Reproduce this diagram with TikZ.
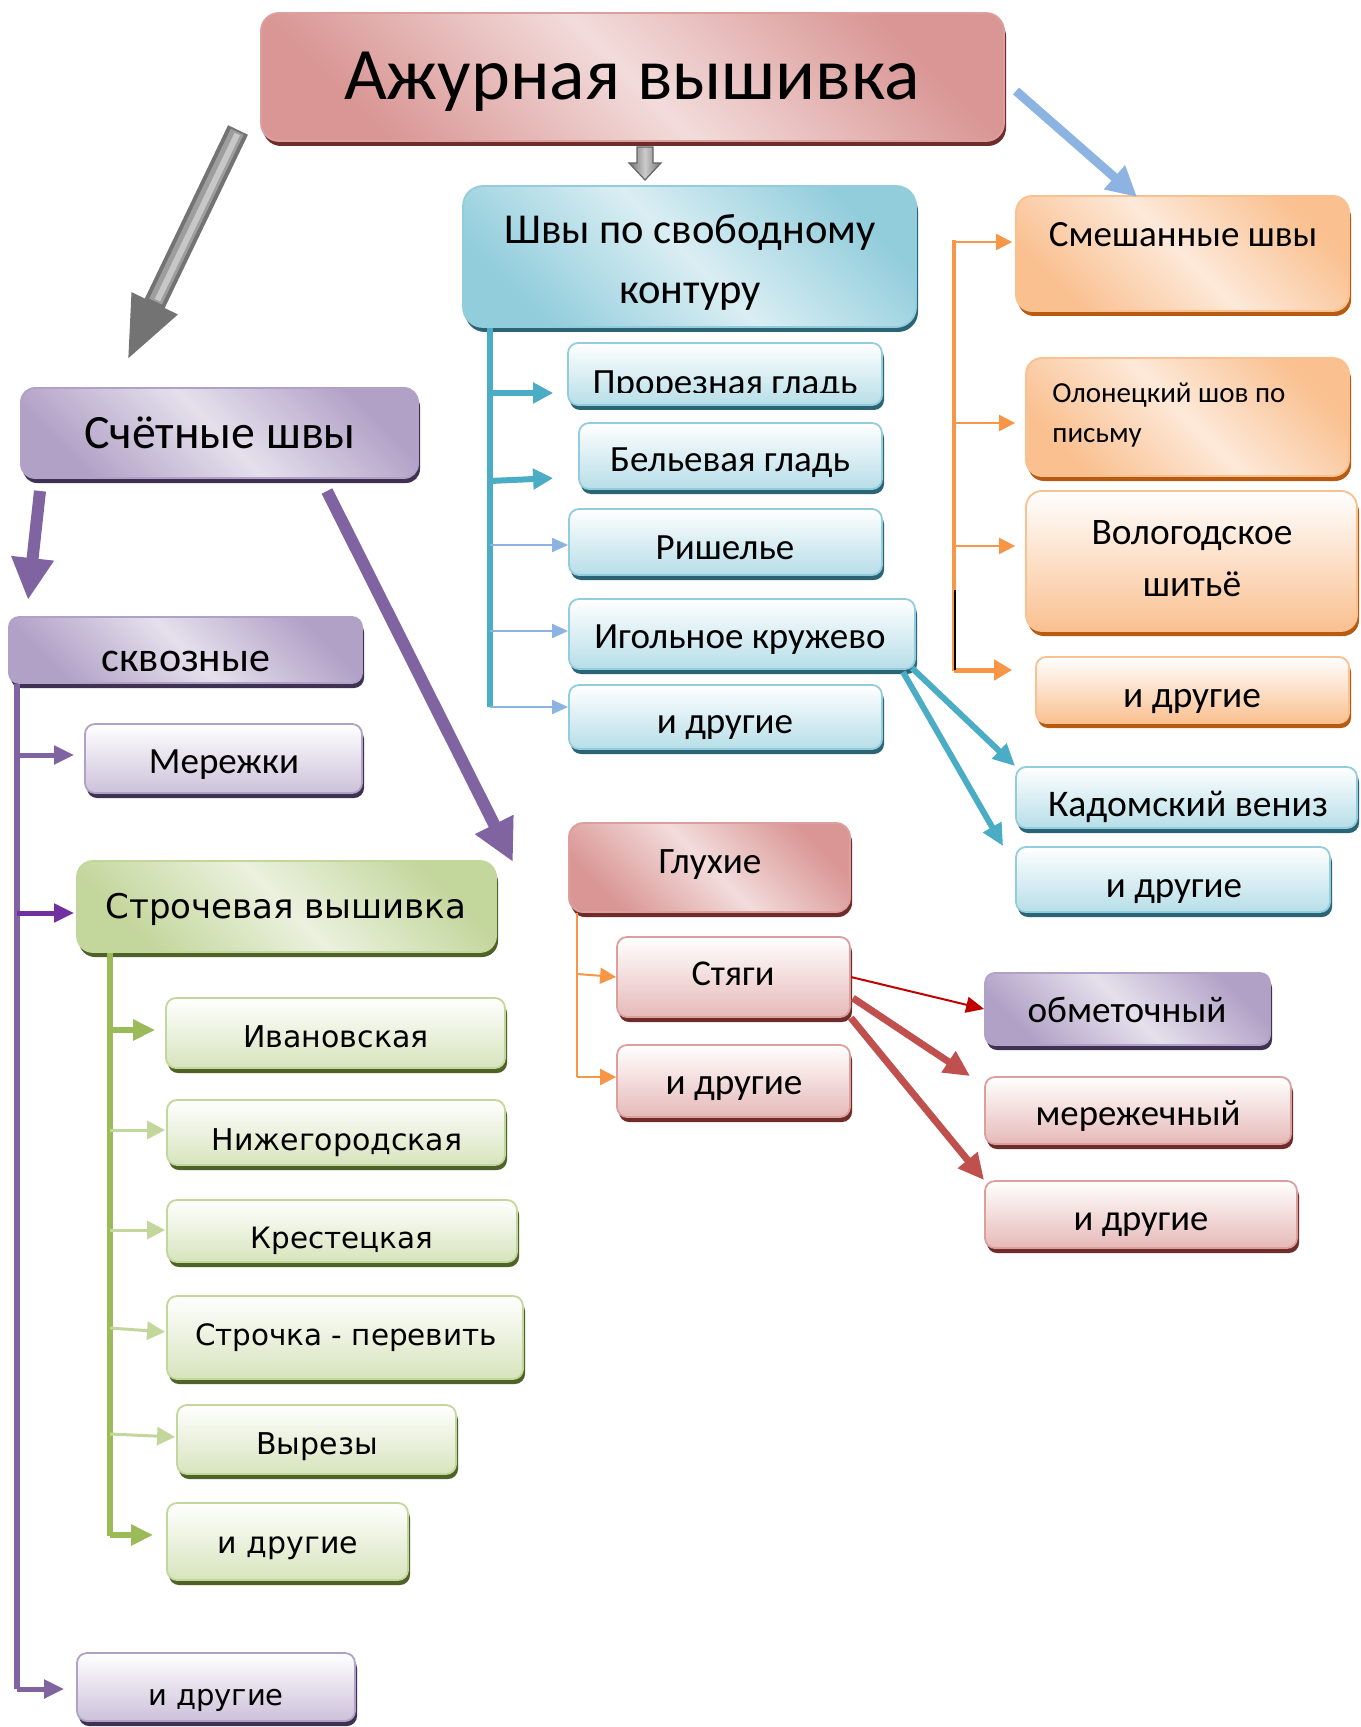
\documentclass[tikz,border=0pt]{standalone}
\usepackage{fontspec}
\setmainfont{Carlito}
\newfontfamily\dvs{DejaVu Sans}
\usetikzlibrary{arrows.meta,shadows,calc}
\definecolor{redL}{HTML}{F2DCDB}
\definecolor{redD}{HTML}{D99694}
\definecolor{redB}{HTML}{DBA09E}
\definecolor{redS}{HTML}{6E2C2A}
\definecolor{redC}{HTML}{E6B9B8}
\definecolor{bluL}{HTML}{DAEEF3}
\definecolor{bluD}{HTML}{92CDDC}
\definecolor{bluB}{HTML}{93CDDD}
\definecolor{bluS}{HTML}{2B6475}
\definecolor{bluC}{HTML}{B7DEE8}
\definecolor{orgL}{HTML}{FDE9D9}
\definecolor{orgD}{HTML}{FAC090}
\definecolor{orgB}{HTML}{FAC090}
\definecolor{orgS}{HTML}{B85A10}
\definecolor{orgC}{HTML}{FAC090}
\definecolor{purL}{HTML}{E5E0EC}
\definecolor{purD}{HTML}{B2A1C7}
\definecolor{purB}{HTML}{B2A1C7}
\definecolor{purS}{HTML}{3F3151}
\definecolor{purC}{HTML}{CCC1DA}
\definecolor{grnL}{HTML}{EBF1DE}
\definecolor{grnD}{HTML}{C3D69B}
\definecolor{grnB}{HTML}{C3D69B}
\definecolor{grnS}{HTML}{4F6228}
\definecolor{grnC}{HTML}{D7E4BD}
\definecolor{aPur}{HTML}{8064A2}
\definecolor{aVio}{HTML}{7030A0}
\definecolor{aGrn}{HTML}{9BBB59}
\definecolor{aGrnL}{HTML}{C3D69B}
\definecolor{aBlu}{HTML}{4BACC6}
\definecolor{aBluL}{HTML}{8DB3E2}
\definecolor{aOrg}{HTML}{F79646}
\definecolor{aRed}{HTML}{C0504D}
\definecolor{aRedT}{HTML}{C00000}
\tikzset{
  bxs/.style={rounded corners=5pt, inner sep=0pt, line width=0.9pt},
  shd/.style={general shadow={fill=#1, shadow xshift=1pt, shadow yshift=-2.5pt}},
  mainbx/.style={bxs, draw=#1B, top color=#1D, bottom color=#1D, middle color=#1L, shading angle=-45, shd=#1S},
  childbx/.style={bxs, draw=#1B, top color=white, bottom color=#1C, shd=#1S},
  tx/.style={anchor=base, inner sep=0pt, text=black},
  pbig/.style={line width=6pt, draw=aPur, -{Triangle[width=20pt,length=21pt]}},
  ptrunk/.style={line width=3pt, draw=aPur},
  pbr/.style={line width=2.5pt, draw=#1, -{Triangle[width=9pt,length=10pt]}},
  gtrunk/.style={line width=3pt, draw=aGrn},
  gthick/.style={line width=3pt, draw=aGrn, -{Triangle[width=10pt,length=11pt]}},
  gthin/.style={line width=1.5pt, draw=aGrnL, -{Triangle[width=9pt,length=9pt]}},
  btrunk/.style={line width=3pt, draw=aBlu},
  bthick/.style={line width=3pt, draw=aBlu, -{Triangle[width=10pt,length=10pt]}},
  bthin/.style={line width=1pt, draw=aBluL, -{Triangle[width=7pt,length=8pt]}},
  otrunk/.style={line width=2pt, draw=aOrg},
  othin/.style={line width=1pt, draw=aOrg, -{Triangle[width=8pt,length=8pt]}},
  othick/.style={line width=2.5pt, draw=aOrg, -{Triangle[width=10pt,length=9pt]}},
  tealarr/.style={line width=3pt, draw=aBlu, -{Triangle[width=10pt,length=11pt]}},
  rthick/.style={line width=3.5pt, draw=aRed, -{Triangle[width=12pt,length=13pt]}},
  rthin/.style={line width=1pt, draw=aRedT, -{Triangle[width=8pt,length=9pt]}},
}
\newcommand\bx[6]{\node[#6, minimum width={(#4-#2)*0.5pt}, minimum height={(#5-#3)*0.5pt}] (#1) at ({(#2+#4)/2},{(#3+#5)/2}) {};}
\newcommand\br[6]{\draw[#1, shorten >=#6] (#2 |- 0,#3) -- (#5.west |- 0,#4);}
\newcommand\fz[1]{\fontsize{#1pt}{#1pt}\selectfont}
\begin{document}
\begin{tikzpicture}[x=0.5pt,y=-0.5pt]
\useasboundingbox (0,0) rectangle (1360,1727);
\fill[white] (0,0) rectangle (1360,1727);

% ---------- boxes ----------
\bx{title}{261}{13}{1004}{141}{mainbx=red, rounded corners=9pt}
\bx{shvy}{463}{186}{916}{327}{mainbx=blu, rounded corners=10pt}
\bx{smesh}{1016}{196}{1349}{311}{mainbx=org, rounded corners=8pt}
\bx{schet}{21}{388}{418}{478}{mainbx=pur, rounded corners=7pt}
\bx{skvoz}{9}{617}{362}{683}{mainbx=pur}
\bx{merezh}{85}{724}{362}{793}{childbx=pur}
\bx{stroch}{77}{861}{496}{952}{mainbx=grn, rounded corners=8pt}
\bx{ivan}{166}{998}{505}{1068}{childbx=grn}
\bx{nizh}{167}{1100}{505}{1165}{childbx=grn}
\bx{krest}{167}{1200}{517}{1262}{childbx=grn}
\bx{strochka}{167}{1296}{523}{1379}{childbx=grn}
\bx{vyrez}{177}{1405}{456}{1474}{childbx=grn}
\bx{gdr}{167}{1503}{408}{1580}{childbx=grn}
\bx{pdr}{77}{1653}{355}{1721}{childbx=pur}
\bx{prorez}{568}{343}{882}{405}{childbx=blu}
\bx{belev}{579}{423}{882}{489}{childbx=blu}
\bx{rish}{569}{509}{882}{575}{childbx=blu}
\bx{igol}{569}{599}{915}{669}{childbx=blu}
\bx{bdr}{569}{685}{882}{749}{childbx=blu}
\bx{olon}{1026}{358}{1349}{476}{mainbx=org, rounded corners=8pt}
\bx{volog}{1026}{491}{1357}{631}{childbx=org, rounded corners=8pt}
\bx{odr}{1036}{657}{1349}{723}{childbx=org}
\bx{kadom}{1016}{767}{1357}{828}{childbx=blu}
\bx{bdrr}{1016}{847}{1330}{912}{childbx=blu}
\bx{gluh}{569}{823}{850}{912}{mainbx=red, rounded corners=7pt}
\bx{styag}{617}{937}{850}{1017}{childbx=red}
\bx{rdr}{617}{1045}{850}{1117}{childbx=red}
\bx{obmet}{985}{973}{1270}{1045}{mainbx=pur}
\bx{merezhn}{985}{1077}{1291}{1144}{childbx=red}
\bx{rdrr}{985}{1181}{1297}{1248}{childbx=red}

% ---------- texts ----------
\node[tx, font=\fz{37}] (titleT) at (632,100) {Ажурная вышивка};
\node[tx, font=\fz{21.3}] (shvyT1) at (690,244) {Швы по свободному};
\node[tx, font=\fz{21.3}] (shvyT2) at (690,304) {контуру};
\node[tx, font=\fz{18.5}] (smeshT) at (1183,247) {Смешанные швы};
\node[tx, font=\fz{23.9}] (schetT) at (220,449) {Счётные швы};
\node[tx, font=\fz{21}] (skvozT) at (186,671) {сквозные};
\node[tx, font=\fz{18.5}] (merezhT) at (224,773) {Мережки};
\node[tx, font=\dvs\fz{17}] (strochT) at (286,918) {Строчевая вышивка};
\node[tx, font=\dvs\fz{15}] (ivanT) at (336,1047) {Ивановская};
\node[tx, font=\dvs\fz{15}] (nizhT) at (337,1150) {Нижегородская};
\node[tx, font=\dvs\fz{14.7}] (krestT) at (342,1248) {Крестецкая};
\node[tx, font=\dvs\fz{14.7}] (strochkaT) at (346,1345) {Строчка - перевить};
\node[tx, font=\dvs\fz{15}] (vyrezT) at (317,1454) {Вырезы};
\node[tx, font=\dvs\fz{15}] (gdrT) at (288,1553) {и другие};
\node[tx, font=\dvs\fz{14.5}] (pdrT) at (216,1705) {и другие};
\begin{scope}
\clip (560,330) rectangle (890,393);
\node[tx, font=\fz{18.5}] (prorezT) at (725,395) {Прорезная гладь};
\end{scope}
\node[tx, font=\fz{18.5}] (belevT) at (730,472) {Бельевая гладь};
\node[tx, font=\fz{18.5}] (rishT) at (725,559) {Ришелье};
\node[tx, font=\fz{18.5}] (igolT) at (740,648) {Игольное кружево};
\node[tx, font=\fz{18.5}] (bdrT) at (725,733) {и другие};
\node[tx, anchor=base west, font=\fz{14.5}] (olonT1) at (1052,403) {Олонецкий шов по};
\node[tx, anchor=base west, font=\fz{14.5}] (olonT2) at (1052,443) {письму};
\node[tx, font=\fz{18.7}] (vologT1) at (1192,544) {Вологодское};
\node[tx, font=\fz{18.7}] (vologT2) at (1192,596) {шитьё};
\node[tx, font=\fz{18.7}] (odrT) at (1192,707) {и другие};
\node[tx, font=\fz{18.8}] (kadomT) at (1188,816) {Кадомский вениз};
\node[tx, font=\fz{18.5}] (bdrrT) at (1174,897) {и другие};
\node[tx, font=\fz{18.6}] (gluhT) at (710,873) {Глухие};
\node[tx, font=\fz{18.2}] (styagT) at (733,985) {Стяги};
\node[tx, font=\fz{18.6}] (rdrT) at (734,1094) {и другие};
\node[tx, font=\fz{18.6}] (obmetT) at (1127,1022) {обметочный};
\node[tx, font=\fz{18.4}] (merezhnT) at (1138,1125) {мережечный};
\node[tx, font=\fz{18.3}] (rdrrT) at (1141,1230) {и другие};

% ---------- big arrows ----------
\coordinate (gA) at (238,130);
\coordinate (gB) at (127,361);
\draw[line width=11pt, draw=black!55, -{Triangle[width=23pt,length=32pt]}] (gA) -- (gB);
\draw[line width=7pt, draw=black!38, shorten >=33pt, shorten <=1pt] (gA) -- (gB);
\draw[line width=3pt, draw=black!22, shorten >=34pt, shorten <=2pt] ($(gA)+(1,0.5)$) -- ($(gB)+(1,0.5)$);

\begin{scope}[shift={(645,147)}]
\path[draw=black!60, line width=0.6pt, left color=black!55, right color=black!55, middle color=black!20]
  (-8,0) -- (-8,16) -- (-16,16) -- (0,33) -- (16,16) -- (8,16) -- (8,0) -- cycle;
\end{scope}

\coordinate (bA) at (1016,91);
\coordinate (bB) at (1137,197);
\draw[line width=4.5pt, draw=aBluL, -{Triangle[width=15pt,length=15pt]}] (bA) -- (bB);

\coordinate (pA1) at (40,491);
\coordinate (pB1) at (28,600);
\draw[pbig] (pA1) -- (pB1);
\coordinate (pA2) at (327,491);
\coordinate (pB2) at (513,862);
\draw[pbig] (pA2) -- (pB2);

% ---------- purple tree ----------
\coordinate (pT0) at ($(skvoz.south west)+(9,0)$);
\coordinate (pT1) at (pT0 |- 0,1689);
\draw[ptrunk] (pT0) -- (pT1);
\br{pbr=aPur}{pT0}{755}{755}{merezh}{5pt}
\br{pbr=aVio}{pT0}{913}{913}{stroch}{1pt}
\br{pbr=aPur}{pT0}{1689}{1689}{pdr}{6pt}

% ---------- green tree ----------
\coordinate (gT0) at ($(stroch.south west)+(34,0)$);
\coordinate (gT1) at (gT0 |- 0,1536);
\draw[gtrunk] (gT0) -- (gT1);
\br{gthick}{gT0}{1030}{1030}{ivan}{5pt}
\br{gthin}{gT0}{1130}{1130}{nizh}{0.5pt}
\br{gthin}{gT0}{1230}{1230}{krest}{0.5pt}
\br{gthin}{gT0}{1328}{1332}{strochka}{0.5pt}
\br{gthin}{gT0}{1434}{1437}{vyrez}{0.5pt}
\br{gthick}{gT0}{1535}{1535}{gdr}{6.5pt}

% ---------- blue tree ----------
\coordinate (bT0) at ($(shvy.south west)+(28,0)$);
\coordinate (bT1) at (bT0 |- 0,707);
\draw[btrunk] (bT0) -- (bT1);
\br{bthick}{bT0}{393}{393}{prorez}{7pt}
\br{bthick}{bT0}{481}{477}{belev}{12.5pt}
\br{bthin}{bT0}{545}{545}{rish}{0pt}
\br{bthin}{bT0}{631}{631}{igol}{0pt}
\br{bthin}{bT0}{707}{707}{bdr}{0pt}

% ---------- orange tree (right) ----------
\coordinate (oT0) at (954,240);
\coordinate (oT1) at (954,671);
\draw[otrunk] (oT0) -- (oT1);
\br{othin}{oT0}{242}{242}{smesh}{1.5pt}
\br{othin}{oT0}{423}{423}{olon}{5pt}
\br{othin}{oT0}{546}{546}{volog}{5pt}
\br{othick}{oT0}{670}{670}{odr}{11.5pt}
\draw[line width=0.8pt, black] (955,590) -- (955,670);

% ---------- orange tree (Глухие) ----------
\coordinate (hT0) at ($(gluh.south west)+(9,0)$);
\coordinate (hT1) at (hT0 |- 0,1077);
\draw[line width=1pt, draw=aOrg] (hT0) -- (hT1);
\br{othin}{hT0}{974}{977}{styag}{0pt}
\br{othin}{hT0}{1077}{1077}{rdr}{0pt}

% ---------- teal from Игольное ----------
\coordinate (iA1) at (912,668);
\coordinate (iA2) at (903,672);
\draw[tealarr] (iA1) -- (kadom.north west);
\draw[tealarr] (iA2) -- ($(bdrr.north west)+(-12,0)$);

% ---------- red from Стяги ----------
\draw[rthin] (styag.east) -- (obmet.west);
\draw[rthick] ($(styag.east)+(2,21)$) -- ($(merezhn.north west)+(-14,0)$);
\draw[rthick] (styag.south east) -- (rdrr.north west);
\end{tikzpicture}
\end{document}
